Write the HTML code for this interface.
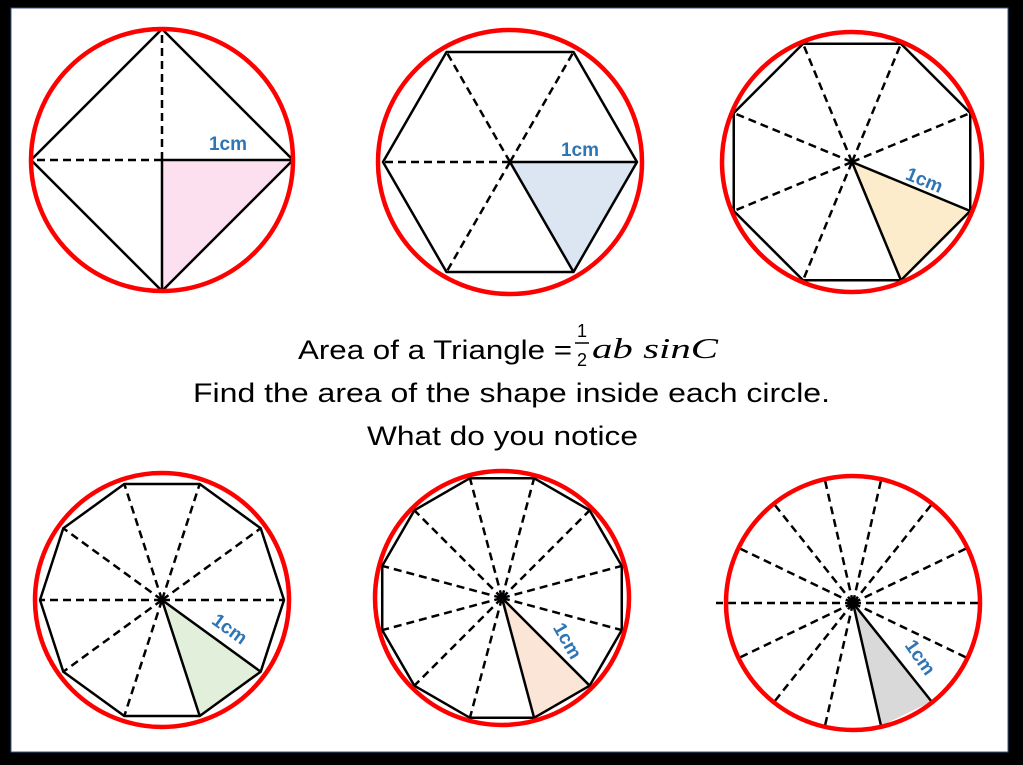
<!DOCTYPE html>
<html><head><meta charset="utf-8">
<style>
html,body{margin:0;padding:0;background:#000;}
svg{display:block;}
</style></head>
<body>
<svg id="s" width="1023" height="765" xmlns="http://www.w3.org/2000/svg">
<rect x="0" y="0" width="1023" height="765" fill="#000"/>
<rect x="11" y="8" width="997" height="744" fill="#fff" stroke="#3a5a8a" stroke-width="1"/>
<g id="g"></g>
<text x="298" y="359" font-family="'Liberation Sans',sans-serif" font-size="27" fill="#000" textLength="274" lengthAdjust="spacingAndGlyphs">Area of a Triangle =</text>
<text x="582" y="337" font-family="'Liberation Sans',sans-serif" font-size="18" text-anchor="middle">1</text>
<line x1="575" y1="343" x2="589" y2="343" stroke="#000" stroke-width="1.5"/>
<text x="582" y="366" font-family="'Liberation Sans',sans-serif" font-size="18" text-anchor="middle">2</text>
<text x="592" y="358" font-family="'Liberation Serif',serif" font-style="italic" font-size="29" textLength="126" lengthAdjust="spacingAndGlyphs">ab  sinC</text>
<text x="193" y="402" font-family="'Liberation Sans',sans-serif" font-size="27" textLength="637" lengthAdjust="spacingAndGlyphs">Find the area of the shape inside each circle.</text>
<text x="367" y="445" font-family="'Liberation Sans',sans-serif" font-size="27" textLength="271" lengthAdjust="spacingAndGlyphs">What do you notice</text>
</svg>
<script>
var g=document.getElementById('g'),NS='http://www.w3.org/2000/svg';
function el(t,a,txt){var e=document.createElementNS(NS,t);for(var k in a)e.setAttribute(k,a[k]);if(txt)e.textContent=txt;g.appendChild(e);return e;}
function P(cx,cy,r,a){a=a*Math.PI/180;return [cx+r*Math.cos(a),cy+r*Math.sin(a)];}
function shape(c){
  var pts=[];for(var i=0;i<c.n;i++)pts.push(P(c.cx,c.cy,c.r,c.off+360*i/c.n));
  var a=pts[c.s],b=pts[(c.s+1)%c.n];
  el('polygon',{points:[c.cx,c.cy,a[0],a[1],b[0],b[1]].join(' '),fill:c.fill});
  for(var i=0;i<c.n;i++){
    var p=pts[i];if(i==c.s||i==(c.s+1)%c.n)continue;
    var ex=p;if(c.ext&&i==c.ext)ex=P(c.cx,c.cy,c.r+11,c.off+360*i/c.n);
    el('line',{x1:c.cx,y1:c.cy,x2:ex[0],y2:ex[1],stroke:'#000','stroke-width':2.5,'stroke-dasharray':'8,5'});
  }
  el('line',{x1:c.cx,y1:c.cy,x2:a[0],y2:a[1],stroke:'#000','stroke-width':2.5});
  el('line',{x1:c.cx,y1:c.cy,x2:b[0],y2:b[1],stroke:'#000','stroke-width':2.5});
  if(!c.nopoly)el('polygon',{points:pts.map(function(p){return p.join(',')}).join(' '),fill:'none',stroke:'#000','stroke-width':2.5,'stroke-linejoin':'round'});
  el('circle',{cx:c.cx,cy:c.cy,r:c.R,fill:'none',stroke:'#f00','stroke-width':4.5});
  el('text',{x:c.lx,y:c.ly,'font-family':"'Liberation Sans',sans-serif",'font-weight':'bold','font-size':19,fill:'#2e75b6','text-anchor':'middle',transform:'rotate('+c.rot+' '+c.lx+' '+c.ly+')'},'1cm');
}
shape({cx:162,cy:160,R:131,r:131,n:4,off:0,s:0,fill:'#fde0f0',lx:228,ly:150,rot:0});
shape({cx:510,cy:162,R:132,r:127,n:6,off:0,s:0,fill:'#dce6f2',lx:580,ly:156,rot:0});
shape({cx:852,cy:162,R:130,r:128,n:8,off:22.5,s:0,fill:'#fdeccb',lx:922,ly:186,rot:22.5});
shape({cx:162,cy:600,R:127,r:122,n:10,off:0,s:1,fill:'#e2efda',lx:226,ly:634,rot:36});
shape({cx:502,cy:598,R:127,r:124,n:12,off:15,s:1,fill:'#fbe5d6',lx:562,ly:644,rot:60});
shape({cx:853,cy:603,R:127,r:126,n:14,off:0,s:2,ext:7,nopoly:1,fill:'#d9d9d9',lx:915,ly:661,rot:55});
</script>
</body></html>
